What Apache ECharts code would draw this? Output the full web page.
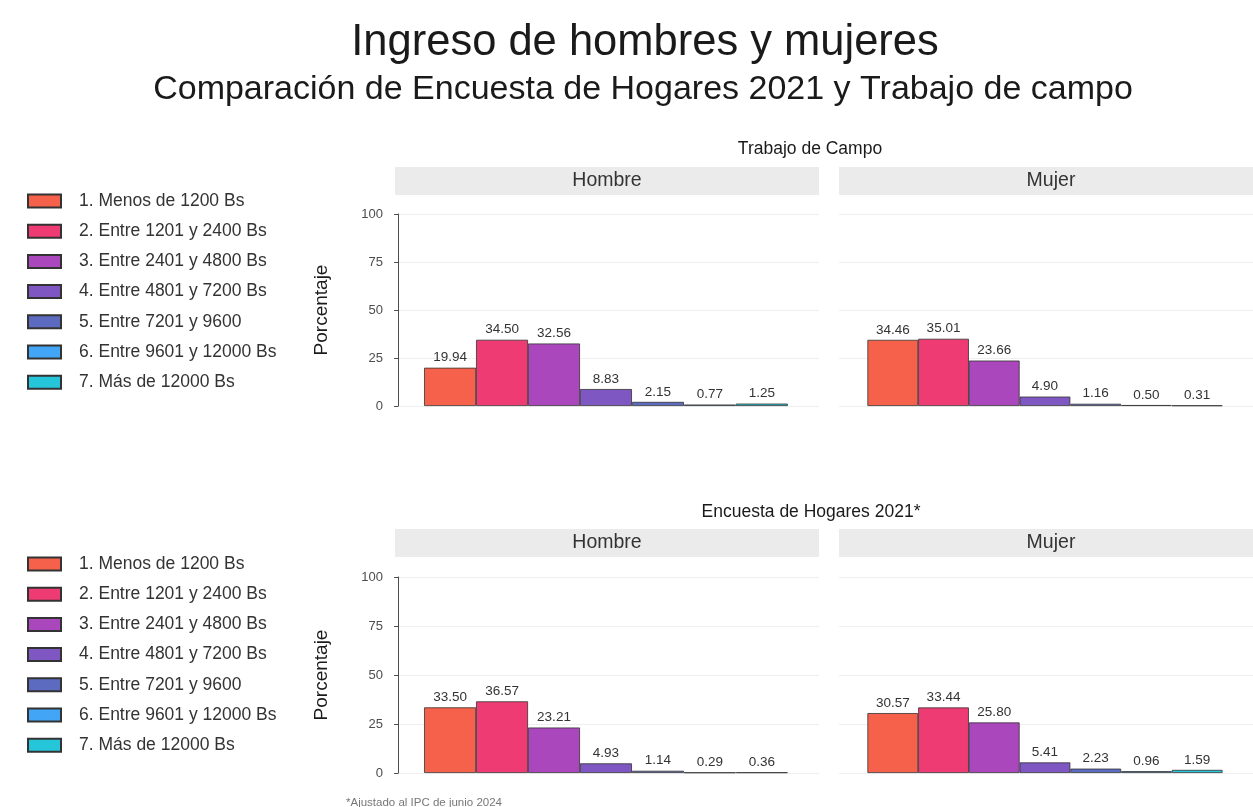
<!DOCTYPE html>
<html>
<head>
<meta charset="utf-8">
<script src="https://cdn.jsdelivr.net/npm/echarts@6/dist/echarts.min.js"></script>
<style>html,body{margin:0;padding:0;background:#fff}#c{width:1253px;height:807px}</style>
</head>
<body>
<div id="c"></div>
<script>
// ---- data ----
const categories = [
  '1. Menos de 1200 Bs',
  '2. Entre 1201 y 2400 Bs',
  '3. Entre 2401 y 4800 Bs',
  '4. Entre 4801 y 7200 Bs',
  '5. Entre 7201 y 9600',
  '6. Entre 9601 y 12000 Bs',
  '7. Más de 12000 Bs'
];
const campoHombre = [19.94, 34.50, 32.56, 8.83, 2.15, 0.77, 1.25];
const campoMujer  = [34.46, 35.01, 23.66, 4.90, 1.16, 0.50, 0.31];
const encuestaHombre = [33.50, 36.57, 23.21, 4.93, 1.14, 0.29, 0.36];
const encuestaMujer  = [30.57, 33.44, 25.80, 5.41, 2.23, 0.96, 1.59];
const panelLabels = ['Hombre', 'Mujer'];
const sectionTitles = ['Trabajo de Campo', 'Encuesta de Hogares 2021*'];
const yTicks = [0, 25, 50, 75, 100];
const colors = ['#F5614A', '#EF3B73', '#AB47BC', '#7E57C2', '#5C6BC0', '#42A5F5', '#26C6DA'];

// ---- layout ----
const FONT = 'Liberation Sans';
const panels = [
  {vals: campoHombre,    left: 395, top: 214, h: 192, yaxis: true},
  {vals: campoMujer,     left: 839, top: 214, h: 192, yaxis: false},
  {vals: encuestaHombre, left: 395, top: 577, h: 196, yaxis: true},
  {vals: encuestaMujer,  left: 839, top: 577, h: 196, yaxis: false}
];
const PW = 424;
const strips = [{top: 167, h: 28}, {top: 529, h: 28}];

const grid = [], xAxis = [], yAxis = [], series = [];
panels.forEach((p, gi) => {
  grid.push({left: p.left, top: p.top, width: PW, height: p.h});
  xAxis.push({type: 'value', gridIndex: gi, min: -0.06, max: 8.1, show: false});
  yAxis.push({
    type: 'value', gridIndex: gi, min: yTicks[0], max: yTicks[yTicks.length - 1], interval: 25,
    name: p.yaxis ? 'Porcentaje' : '', nameLocation: 'middle', nameGap: 64,
    nameTextStyle: {fontFamily: FONT, fontSize: 19, color: '#1a1a1a'},
    axisLine: {show: p.yaxis, lineStyle: {color: '#4d4d4d', width: 1}},
    axisTick: {show: p.yaxis, length: 4, lineStyle: {color: '#4d4d4d'}},
    axisLabel: {show: p.yaxis, margin: 12, fontFamily: FONT, fontSize: 13, color: '#4d4d4d'},
    splitLine: {show: true, lineStyle: {color: '#EFEFEF', width: 1}}
  });
  categories.forEach((cat, ci) => {
    series.push({
      name: cat, type: 'bar', xAxisIndex: gi, yAxisIndex: gi, stack: 'p' + gi,
      barCategoryGap: '0%',
      data: [[ci + 1, p.vals[ci]]],
      itemStyle: {color: colors[ci], borderColor: '#333333', borderWidth: 0.8},
      label: {
        show: true, position: 'top', distance: 3,
        fontFamily: FONT, fontSize: 13.5, color: '#333',
        formatter: (prm) => prm.value[1].toFixed(2)
      },
      emphasis: {disabled: true}
    });
  });
});

const graphic = [];
strips.forEach((s, si) => {
  [395, 839].forEach((x, pi) => {
    graphic.push({type: 'rect', left: x, top: s.top, shape: {width: PW, height: s.h}, style: {fill: '#EBEBEB'}, silent: true, z: -1});
    graphic.push({type: 'text', x: x + PW / 2, y: s.top + s.h / 2,
      style: {text: panelLabels[pi], fontFamily: FONT, fontSize: 19.5, fill: '#333', align: 'center', verticalAlign: 'middle'}});
  });
});

const legendCommon = {
  orient: 'vertical', left: 27, padding: 0, itemWidth: 33, itemHeight: 13, itemGap: 12.2,
  selectedMode: false, data: categories,
  textStyle: {fontFamily: FONT, fontSize: 17.5, color: '#333', padding: [0, 0, 0, 13]},
  icon: 'rect'
};

const option = {
  animation: false,
  color: colors,
  title: [
    {text: 'Ingreso de hombres y mujeres', left: 640, top: 16, textAlign: 'center',
     textStyle: {fontFamily: FONT, fontSize: 43.5, fontWeight: 'normal', color: '#1a1a1a'}},
    {text: 'Comparación de Encuesta de Hogares 2021 y Trabajo de campo', left: 638, top: 68, textAlign: 'center',
     textStyle: {fontFamily: FONT, fontSize: 34, fontWeight: 'normal', color: '#1a1a1a'}},
    {text: sectionTitles[0], left: 805, top: 135, textAlign: 'center',
     textStyle: {fontFamily: FONT, fontSize: 17.5, fontWeight: 'normal', color: '#1a1a1a'}},
    {text: sectionTitles[1], left: 806, top: 498, textAlign: 'center',
     textStyle: {fontFamily: FONT, fontSize: 17.5, fontWeight: 'normal', color: '#1a1a1a'}},
    {text: '*Ajustado al IPC de junio 2024', left: 341, top: 792,
     textStyle: {fontFamily: FONT, fontSize: 11.5, fontWeight: 'normal', color: '#777'}}
  ],
  legend: [
    Object.assign({top: 192}, legendCommon),
    Object.assign({top: 555}, legendCommon)
  ],
  grid, xAxis, yAxis, series, graphic
};

const chart = echarts.init(document.getElementById('c'), null, {renderer: 'canvas'});
chart.setOption(option);
</script>
</body>
</html>
